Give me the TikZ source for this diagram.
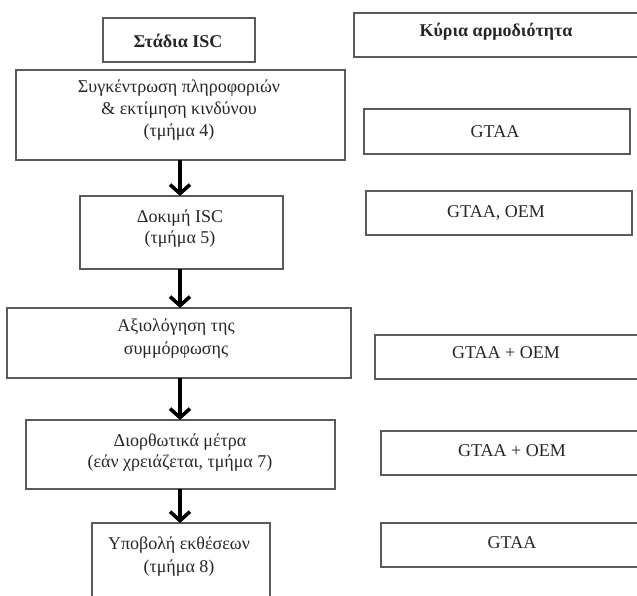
\documentclass[tikz,border=0pt]{standalone}
\usepackage{fontspec}
\setmainfont{Liberation Serif}
\usetikzlibrary{arrows.meta}
\definecolor{boxline}{HTML}{5A5A5A}
\definecolor{ink}{HTML}{262626}
\tikzset{
  box/.style={draw=boxline, line width=1.2pt, fill=none, inner sep=0pt, outer sep=0pt},
  ltext/.style={text=ink, align=center, inner sep=0pt, font=\fontsize{18}{22}\selectfont},
  rtext/.style={text=ink, align=center, inner sep=0pt, font=\fontsize{18}{22}\selectfont},
  htext/.style={text=ink, align=center, inner sep=0pt, font=\fontsize{18}{22}\selectfont\bfseries},
  flow/.style={draw=black, line width=3.6pt, -{Straight Barb[length=9pt,width=20pt]}},
}
\begin{document}
\begin{tikzpicture}[x=1pt, y=-1pt]
\useasboundingbox (0,0) rectangle (637,595);
\clip (0,0) rectangle (637,595);
% headers
\node[box, minimum width=152pt, minimum height=44pt] (hl) at (179,40) {};
\node[htext] (hlt) at (178,41) {Στάδια ISC};
\node[box, minimum width=290pt, minimum height=44pt] (hr) at (499,35) {};
\node[htext] (hrt) at (496,32) {Κύρια αρμοδιότητα};
% left column
\node[box, minimum width=329pt, minimum height=90pt] (b1) at (180.5,115) {};
\node[ltext] (t1) at (179,110) {Συγκέντρωση πληροφοριών\\ \& εκτίμηση κινδύνου\\ (τμήμα 4)};
\node[box, minimum width=203pt, minimum height=73pt] (b2) at (181.5,232.5) {};
\node[ltext, font=\fontsize{18}{21}\selectfont] (t2) at (180,229) {Δοκιμή ISC\\ (τμήμα 5)};
\node[box, minimum width=344pt, minimum height=70pt] (b3) at (179,343) {};
\node[ltext, font=\fontsize{18}{23}\selectfont] (t3) at (176,339) {Αξιολόγηση της\\ συμμόρφωσης};
\node[box, minimum width=309pt, minimum height=69pt] (b4) at (180.5,454.5) {};
\node[ltext, font=\fontsize{18}{21}\selectfont] (t4) at (180,453) {Διορθωτικά μέτρα\\ (εάν χρειάζεται, τμήμα 7)};
\node[box, minimum width=178pt, minimum height=90pt] (b5) at (181,568) {};
\node[ltext, font=\fontsize{18}{23}\selectfont] (t5) at (179,557) {Υποβολή εκθέσεων\\ (τμήμα 8)};
% right column
\node[box, minimum width=266pt, minimum height=45pt] (r1) at (497,131.5) {};
\node[rtext] (r1t) at (495,132) {GTAA};
\node[box, minimum width=266pt, minimum height=44pt] (r2) at (499,213) {};
\node[rtext] (r2t) at (496,213) {GTAA, OEM};
\node[box, minimum width=270pt, minimum height=44pt] (r3) at (510,357) {};
\node[rtext] (r3t) at (506,353) {GTAA + OEM};
\node[box, minimum width=264pt, minimum height=44pt] (r4) at (513,453) {};
\node[rtext] (r4t) at (512,451) {GTAA + OEM};
\node[box, minimum width=264pt, minimum height=44pt] (r5) at (513,545) {};
\node[rtext] (r5t) at (512,543) {GTAA};
% arrows
\draw[flow] (b1.south -| 180,0) -- (b2.north -| 180,0);
\draw[flow] (b2.south -| 180,0) -- (b3.north -| 180,0);
\draw[flow] (b3.south -| 180,0) -- (b4.north -| 180,0);
\draw[flow] (b4.south -| 180,0) -- (b5.north -| 180,0);
\end{tikzpicture}
\end{document}
